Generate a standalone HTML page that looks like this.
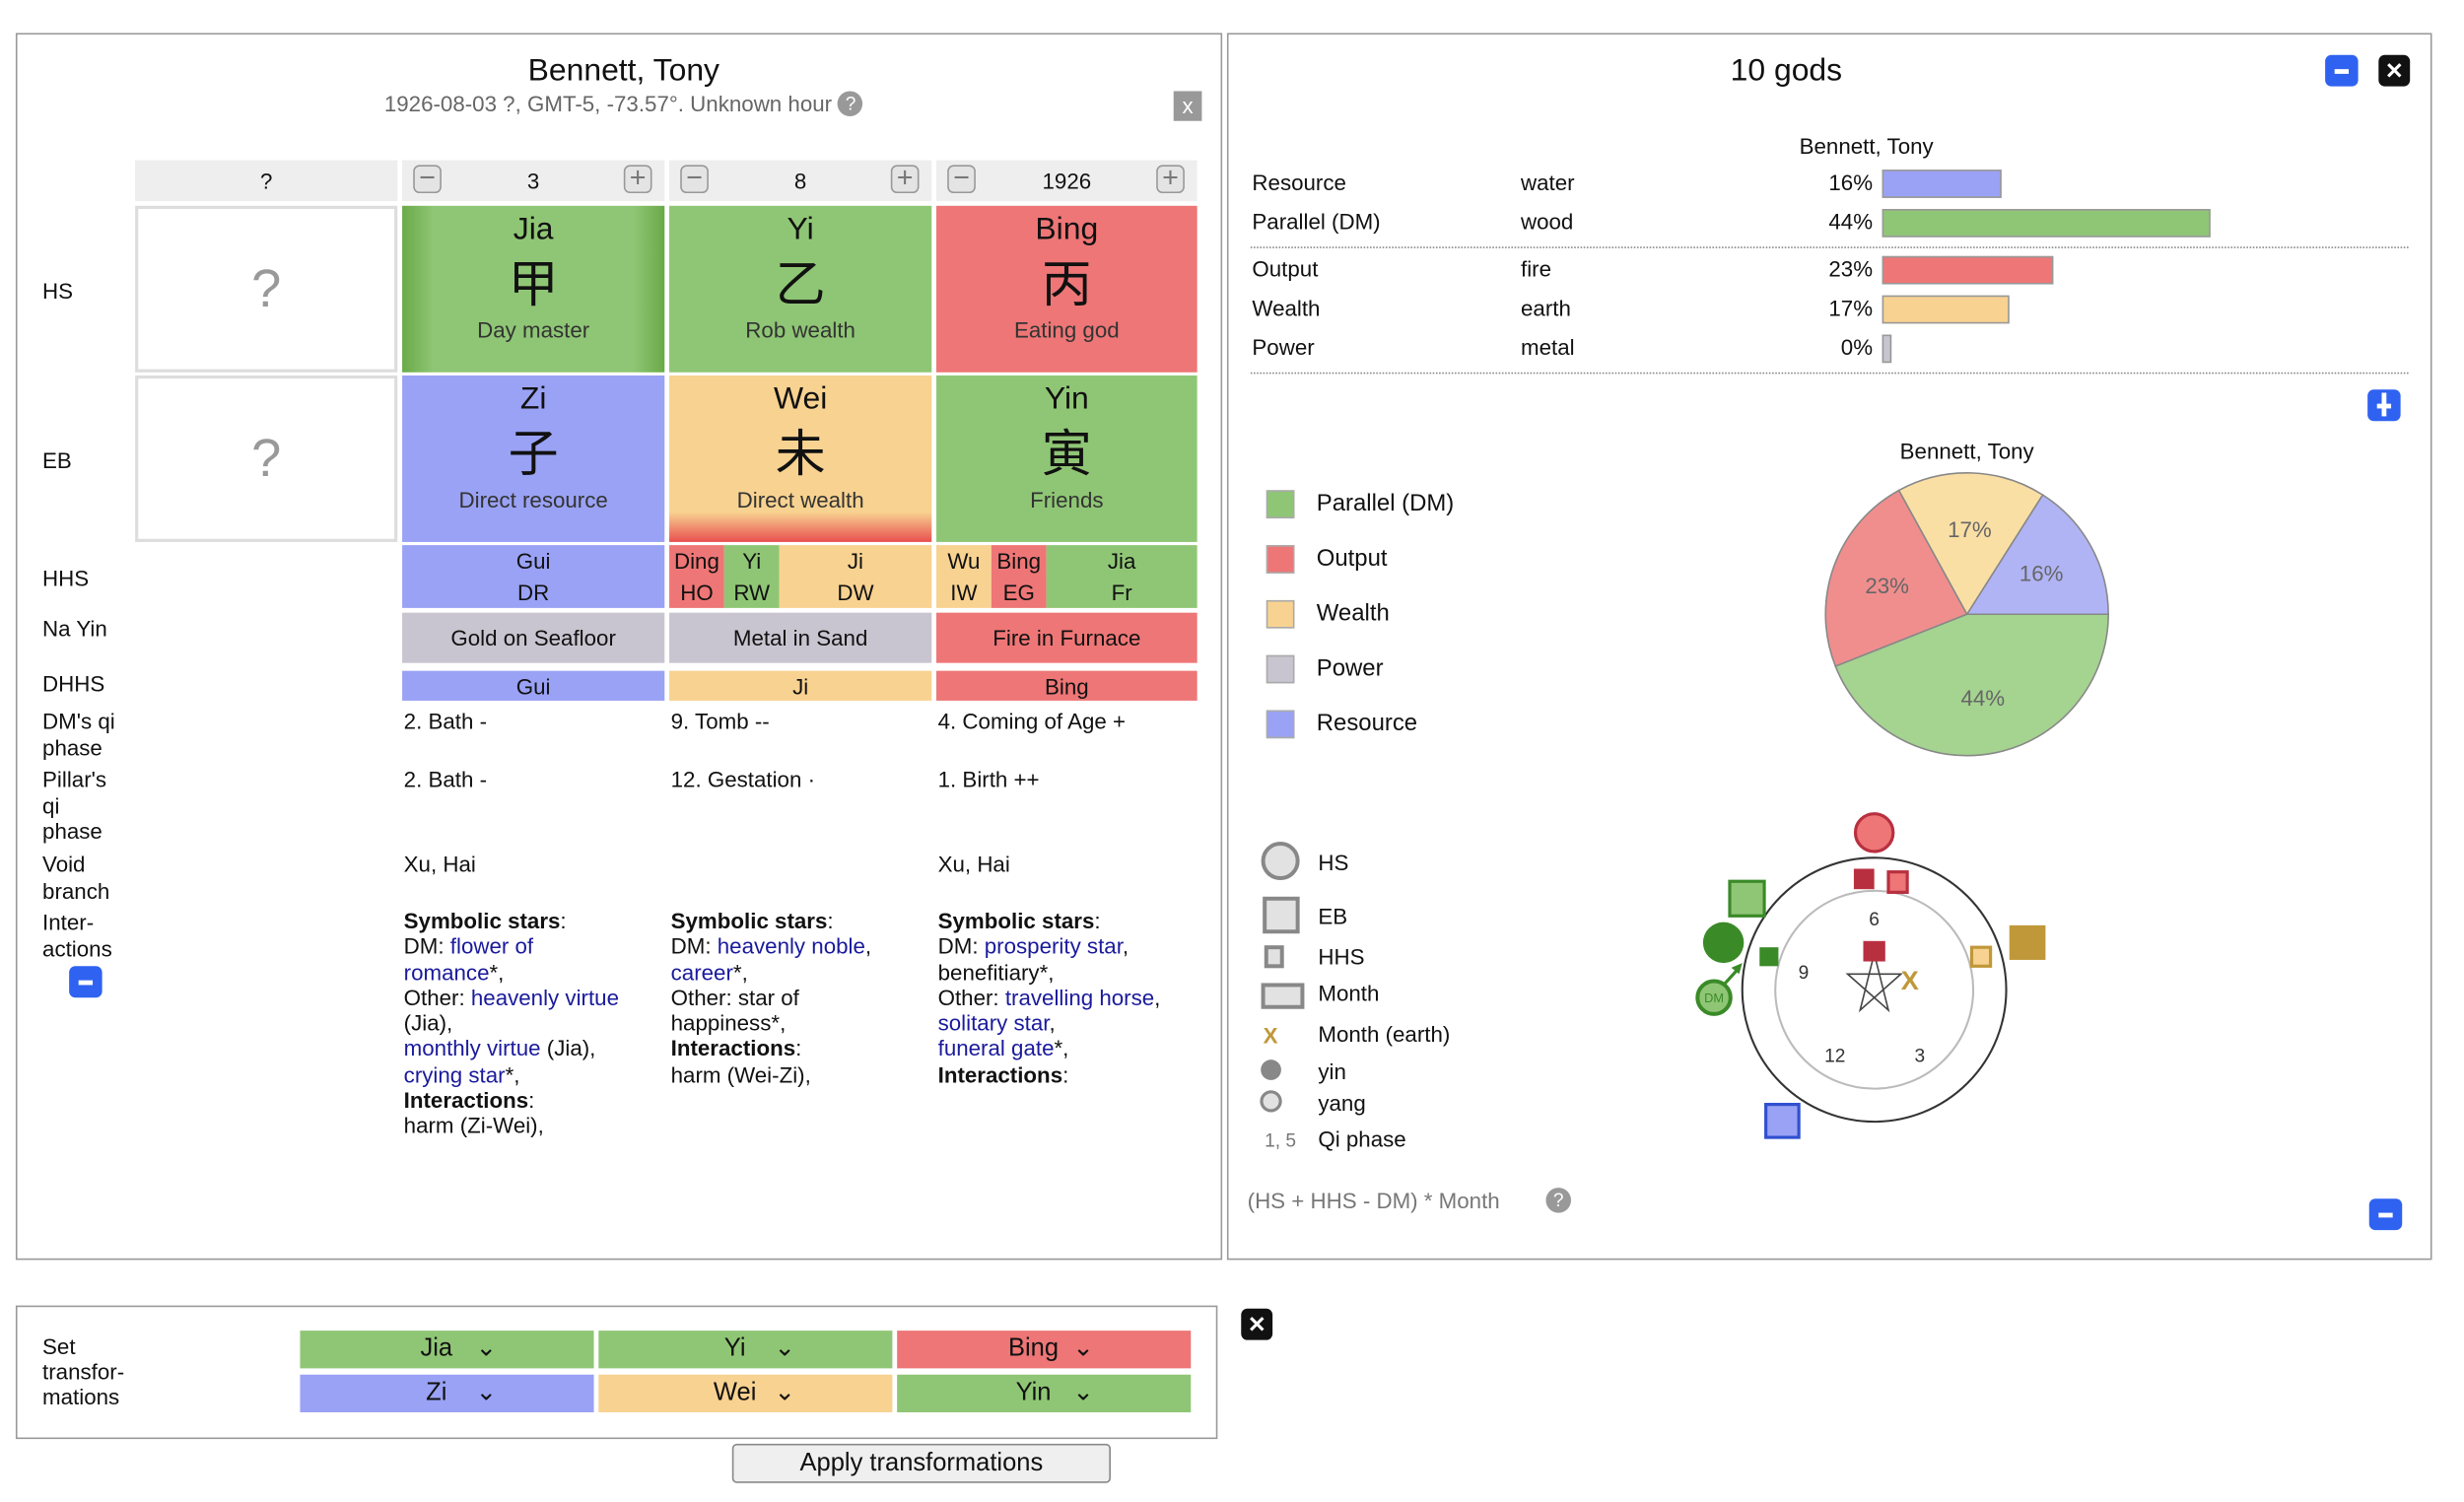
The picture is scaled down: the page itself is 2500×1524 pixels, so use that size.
<!DOCTYPE html>
<html><head><meta charset="utf-8">
<style>
html,body{margin:0;padding:0;background:#fff;overflow:hidden}
body{width:2500px;height:1524px}
#root{position:absolute;left:0;top:0;width:1568px;height:956px;transform:scale(1.594);transform-origin:0 0;font-family:"Liberation Sans","Noto Sans CJK SC",sans-serif;font-size:14px;color:#111}
#root div{white-space:nowrap}
.a{position:absolute}
.panel{position:absolute;border:1px solid #999;box-sizing:border-box;background:#fff}
.c{text-align:center}
.cell{position:absolute;box-sizing:border-box;text-align:center}
.g{background:#8fc675}.r{background:#ee7676}.y{background:#f8d290}.b{background:#9aa2f5}.p{background:#c9c5d0}
.hd{position:absolute;top:102px;height:26px;background:#eee;line-height:26px;text-align:center;font-size:14px}
.pm{position:absolute;top:3px;width:18px;height:18px;border:1px solid #999;border-radius:4px;background:#e4e4e4;box-sizing:border-box;color:#777;line-height:15px;font-size:18px}
.big{font-size:20px;line-height:24px;padding-top:3px}
.cjk{font-family:"Noto Sans CJK SC",sans-serif;font-size:32px;line-height:42px}
.sub{font-size:14px;color:#333;line-height:20px}
.lab{position:absolute;left:27px;line-height:16.5px;font-size:14px}
.lnk{color:#1a1a9c}
.btnb{position:absolute;width:21px;height:20px;border-radius:4px;background:#2f62f0}
.btnb:after{content:"";position:absolute;left:6px;top:9px;width:9px;height:3px;background:#fff}
.dd{position:absolute;height:24px;line-height:24px;font-size:16px;text-align:center}
.dd span{display:inline-block;width:50px;text-align:center}
</style></head><body>
<div id="root">

<div class="panel" style="left:10px;top:21px;width:768px;height:781px"></div>
<div class="a c" style="left:197px;top:34px;width:400px;font-size:20px">Bennett, Tony</div>
<div class="a c" style="left:147px;top:58px;width:500px;font-size:14px;color:#666">1926-08-03 ?, GMT-5, -73.57°. Unknown hour <span style="display:inline-block;width:16px;height:16px;border-radius:8px;background:#999;color:#fff;font-size:12px;line-height:16px;vertical-align:1px">?</span></div>
<div class="a c" style="left:747px;top:58px;width:18px;height:19px;background:#999;color:#fff;line-height:19px;font-size:14px">x</div>

<div class="hd" style="left:86px;width:167px">?</div>
<div class="hd" style="left:256px;width:167px"><div class="pm" style="left:7px">−</div>3<div class="pm" style="right:8px">+</div></div>
<div class="hd" style="left:426px;width:167px"><div class="pm" style="left:7px">−</div>8<div class="pm" style="right:8px">+</div></div>
<div class="hd" style="left:596px;width:166px"><div class="pm" style="left:7px">−</div>1926<div class="pm" style="right:8px">+</div></div>

<div class="lab" style="top:177px">HS</div>
<div class="lab" style="top:285px">EB</div>
<div class="lab" style="top:360px">HHS</div>
<div class="lab" style="top:392px">Na Yin</div>
<div class="lab" style="top:427px">DHHS</div>
<div class="lab" style="top:451px">DM's qi<br>phase</div>
<div class="lab" style="top:488px">Pillar's<br>qi<br>phase</div>
<div class="lab" style="top:542px">Void<br>branch</div>
<div class="lab" style="top:579px">Inter-<br>actions</div>
<div class="btnb" style="left:44px;top:615px"></div>

<div class="cell" style="left:86px;top:131px;width:167px;height:106px;border:2px solid #ddd;font-size:34px;color:#999;line-height:102px">?</div>
<div class="cell" style="left:86px;top:239px;width:167px;height:106px;border:2px solid #ddd;font-size:34px;color:#999;line-height:102px">?</div>

<div class="cell" style="left:256px;top:131px;width:167px;height:106px;background:linear-gradient(90deg,#6aaa48 0%,#8fc675 12%,#8fc675 88%,#6aaa48 100%)"><div class="big">Jia</div><div class="cjk">甲</div><div class="sub">Day master</div></div>
<div class="cell g" style="left:426px;top:131px;width:167px;height:106px"><div class="big">Yi</div><div class="cjk">乙</div><div class="sub">Rob wealth</div></div>
<div class="cell r" style="left:596px;top:131px;width:166px;height:106px"><div class="big">Bing</div><div class="cjk">丙</div><div class="sub">Eating god</div></div>

<div class="cell b" style="left:256px;top:239px;width:167px;height:106px"><div class="big">Zi</div><div class="cjk">子</div><div class="sub">Direct resource</div></div>
<div class="cell" style="left:426px;top:239px;width:167px;height:106px;background:linear-gradient(180deg,#f8d290 0%,#f8d290 82%,#e85050 100%)"><div class="big">Wei</div><div class="cjk">未</div><div class="sub">Direct wealth</div></div>
<div class="cell g" style="left:596px;top:239px;width:166px;height:106px"><div class="big">Yin</div><div class="cjk">寅</div><div class="sub">Friends</div></div>

<div class="cell b" style="left:256px;top:347px;width:167px;height:40px;line-height:20px">Gui<br>DR</div>
<div class="cell r" style="left:426px;top:347px;width:35px;height:40px;line-height:20px">Ding<br>HO</div>
<div class="cell g" style="left:461px;top:347px;width:35px;height:40px;line-height:20px">Yi<br>RW</div>
<div class="cell y" style="left:496px;top:347px;width:97px;height:40px;line-height:20px">Ji<br>DW</div>
<div class="cell y" style="left:596px;top:347px;width:35px;height:40px;line-height:20px">Wu<br>IW</div>
<div class="cell r" style="left:631px;top:347px;width:35px;height:40px;line-height:20px">Bing<br>EG</div>
<div class="cell g" style="left:666px;top:347px;width:96px;height:40px;line-height:20px">Jia<br>Fr</div>

<div class="cell p" style="left:256px;top:390px;width:167px;height:32px;line-height:33px">Gold on Seafloor</div>
<div class="cell p" style="left:426px;top:390px;width:167px;height:32px;line-height:33px">Metal in Sand</div>
<div class="cell r" style="left:596px;top:390px;width:166px;height:32px;line-height:33px">Fire in Furnace</div>

<div class="cell b" style="left:256px;top:427px;width:167px;height:19px;line-height:20px">Gui</div>
<div class="cell y" style="left:426px;top:427px;width:167px;height:19px;line-height:20px">Ji</div>
<div class="cell r" style="left:596px;top:427px;width:166px;height:19px;line-height:20px">Bing</div>

<div class="a" style="left:257px;top:451px;line-height:16.5px">2. Bath -</div>
<div class="a" style="left:427px;top:451px;line-height:16.5px">9. Tomb --</div>
<div class="a" style="left:597px;top:451px;line-height:16.5px">4. Coming of Age +</div>
<div class="a" style="left:257px;top:488px;line-height:16.5px">2. Bath -</div>
<div class="a" style="left:427px;top:488px;line-height:16.5px">12. Gestation ·</div>
<div class="a" style="left:597px;top:488px;line-height:16.5px">1. Birth ++</div>
<div class="a" style="left:257px;top:542px;line-height:16.5px">Xu, Hai</div>
<div class="a" style="left:597px;top:542px;line-height:16.5px">Xu, Hai</div>

<div class="a" style="left:257px;top:578px;width:165px;line-height:16.3px"><b>Symbolic stars</b>:<br>DM: <span class="lnk">flower of<br>romance</span>*,<br>Other: <span class="lnk">heavenly virtue</span><br>(Jia),<br><span class="lnk">monthly virtue</span> (Jia),<br><span class="lnk">crying star</span>*,<br><b>Interactions</b>:<br>harm (Zi-Wei),</div>
<div class="a" style="left:427px;top:578px;width:165px;line-height:16.3px"><b>Symbolic stars</b>:<br>DM: <span class="lnk">heavenly noble</span>,<br><span class="lnk">career</span>*,<br>Other: star of<br>happiness*,<br><b>Interactions</b>:<br>harm (Wei-Zi),</div>
<div class="a" style="left:597px;top:578px;width:165px;line-height:16.3px"><b>Symbolic stars</b>:<br>DM: <span class="lnk">prosperity star</span>,<br>benefitiary*,<br>Other: <span class="lnk">travelling horse</span>,<br><span class="lnk">solitary star</span>,<br><span class="lnk">funeral gate</span>*,<br><b>Interactions</b>:</div>

<div class="panel" style="left:781px;top:21px;width:767px;height:781px"></div>
<div class="a c" style="left:1037px;top:34px;width:200px;font-size:20px">10 gods</div>
<div class="btnb" style="left:1480px;top:35px"></div>
<div class="a c" style="left:1514px;top:35px;width:20px;height:20px;border-radius:4px;background:#111;color:#fff;font-weight:bold;line-height:20px;font-size:14px">✕</div>
<div class="a c" style="left:1088px;top:85px;width:200px">Bennett, Tony</div>
<div id="bars" class="a" style="left:0;top:0"></div>
<div class="a" style="left:796px;top:157px;width:737px;border-top:1px dotted #888"></div>
<div class="a" style="left:796px;top:237px;width:737px;border-top:1px dotted #888"></div>
<div class="btnb" style="left:1507px;top:248px"></div>
<div class="a" style="left:1516px;top:250px;width:3px;height:15px;background:#fff"></div>

<div class="a c" style="left:1152px;top:279px;width:200px">Bennett, Tony</div>
<svg class="a" id="pie" style="left:1150px;top:290px" width="205" height="205"></svg>
<div id="pielegend" class="a" style="left:0;top:0"></div>

<svg class="a" style="left:795px;top:530px" width="50" height="210">
<circle cx="20" cy="18" r="11" fill="#e2e2e2" stroke="#888" stroke-width="2.5"/>
<rect x="10" y="42" width="21" height="21" fill="#e2e2e2" stroke="#888" stroke-width="2.5"/>
<rect x="11" y="73" width="10" height="12" fill="#e2e2e2" stroke="#888" stroke-width="2.5"/>
<rect x="9" y="97" width="25" height="14" fill="#e2e2e2" stroke="#888" stroke-width="2.5"/>
<text x="9" y="134" fill="#c0983a" font-size="14" font-weight="bold" font-family="Liberation Sans">X</text>
<circle cx="14" cy="151" r="6.5" fill="#888"/>
<circle cx="14" cy="171" r="6" fill="#e2e2e2" stroke="#888" stroke-width="2"/>
<text x="10" y="200" fill="#777" font-size="12" font-family="Liberation Sans">1, 5</text>
</svg>
<div class="a" style="left:839px;top:541px;line-height:17px">HS</div>
<div class="a" style="left:839px;top:575px;line-height:17px">EB</div>
<div class="a" style="left:839px;top:601px;line-height:17px">HHS</div>
<div class="a" style="left:839px;top:624px;line-height:17px">Month</div>
<div class="a" style="left:839px;top:650px;line-height:17px">Month (earth)</div>
<div class="a" style="left:839px;top:674px;line-height:17px">yin</div>
<div class="a" style="left:839px;top:694px;line-height:17px">yang</div>
<div class="a" style="left:839px;top:717px;line-height:17px">Qi phase</div>

<svg class="a" style="left:1060px;top:505px" width="260" height="230">
<circle cx="133" cy="125" r="84" fill="none" stroke="#333" stroke-width="1.3"/>
<circle cx="133" cy="125" r="63" fill="none" stroke="#bbb" stroke-width="1.3"/>
<g font-family="Liberation Sans" font-size="12" fill="#333" text-anchor="middle">
<text x="133" y="84">6</text>
<text x="88" y="118">9</text>
<text x="108" y="171">12</text>
<text x="162" y="171">3</text>
</g>
<polygon points="133,102 142,138 116,115 150,115 124,138" fill="none" stroke="#444" stroke-width="1"/>
<circle cx="133" cy="25" r="12" fill="#ee7676" stroke="#b83040" stroke-width="2"/>
<rect x="120" y="48" width="13" height="13" fill="#b83040"/>
<rect x="142" y="50" width="12" height="13" fill="#ee7676" stroke="#b83040" stroke-width="2"/>
<rect x="126" y="94" width="14" height="13" fill="#b83040"/>
<rect x="41" y="56" width="22" height="22" fill="#8fc675" stroke="#3a8a28" stroke-width="2"/>
<circle cx="37" cy="95" r="13" fill="#3a8a28"/>
<rect x="60" y="98" width="12" height="12" fill="#3a8a28"/>
<circle cx="31" cy="130" r="10.5" fill="#8fc675" stroke="#3a8a28" stroke-width="2.5"/>
<text x="31" y="133" font-family="Liberation Sans" font-size="8" fill="#3a8a28" text-anchor="middle">DM</text>
<line x1="38" y1="121" x2="47" y2="111" stroke="#3a8a28" stroke-width="2"/>
<polygon points="49,108 42,111 47,115" fill="#3a8a28"/>
<rect x="219" y="84" width="23" height="22" fill="#c0983a"/>
<rect x="195" y="98" width="12" height="12" fill="#f8d290" stroke="#c0983a" stroke-width="2"/>
<text x="150" y="125" font-family="Liberation Sans" font-size="17" font-weight="bold" fill="#c0983a">X</text>
<rect x="64" y="198" width="21" height="21" fill="#9aa2f5" stroke="#3050d0" stroke-width="2"/>
</svg>

<div class="a" style="left:794px;top:756px;color:#777">(HS + HHS - DM) * Month</div>
<div class="a c" style="left:984px;top:756px;width:16px;height:16px;border-radius:8px;background:#999;color:#fff;font-size:12px;line-height:16px">?</div>
<div class="btnb" style="left:1508px;top:763px"></div>

<div class="panel" style="left:10px;top:831px;width:765px;height:85px"></div>
<div class="lab" style="top:849px;line-height:16px">Set<br>transfor-<br>mations</div>
<div class="dd g" style="left:191px;top:847px;width:187px"><span>Jia</span>⌄</div>
<div class="dd g" style="left:381px;top:847px;width:187px"><span>Yi</span>⌄</div>
<div class="dd r" style="left:571px;top:847px;width:187px"><span>Bing</span>⌄</div>
<div class="dd b" style="left:191px;top:875px;width:187px"><span>Zi</span>⌄</div>
<div class="dd y" style="left:381px;top:875px;width:187px"><span>Wei</span>⌄</div>
<div class="dd g" style="left:571px;top:875px;width:187px"><span>Yin</span>⌄</div>
<div class="a c" style="left:790px;top:833px;width:20px;height:20px;border-radius:4px;background:#111;color:#fff;font-weight:bold;line-height:20px;font-size:14px">✕</div>
<div class="a c" style="left:466px;top:919px;width:239px;height:23px;border:1px solid #888;border-radius:3px;background:#efefef;line-height:23px;font-size:16px">Apply transformations</div>
</div>

<script>
const godNames = ["Resource","Parallel (DM)","Output","Wealth","Power"];
const godElements = ["water","wood","fire","earth","metal"];
const godPercents = [16,44,23,17,0];
const godColors = ["#9aa2f5","#8fc675","#ee7676","#f8d290","#c9c5d0"];
const rowTops = [117,142,172,197,222];
const barX = 1198, pxPerPct = 4.75;
const bars = document.getElementById('bars');
godNames.forEach((n,i)=>{
  const y = rowTops[i];
  const l = document.createElement('div'); l.className='a'; l.style.cssText=`left:797px;top:${y-9}px`; l.textContent=n;
  
  
  bars.appendChild(l);
  const e = document.createElement('div'); e.className='a'; e.style.cssText=`left:968px;top:${y-9}px`; e.textContent=godElements[i];
  
  
  bars.appendChild(e);
  const p = document.createElement('div'); p.className='a'; p.style.cssText=`left:1100px;width:92px;text-align:right;top:${y-9}px`; p.textContent=godPercents[i]+'%';
  
  
  bars.appendChild(p);
  const b = document.createElement('div'); b.className='a';
  const w = Math.max(godPercents[i]*pxPerPct, 6);
  b.style.cssText=`left:${barX}px;top:${y-9}px;width:${w}px;height:18px;box-sizing:border-box;border:1px solid #999;background:${godColors[i]}`;
  
  
  bars.appendChild(b);
});

const pieLabels = ["Resource","Wealth","Output","Parallel (DM)"];
const pieValues = [16,17,23,44];
const pieColors = ["#b0b4f5","#fadfa5","#f08e8e","#a5d390"];
const svgNS='http://www.w3.org/2000/svg';
const pie=document.getElementById('pie');
const cx=102, cy=101, R=90;
const total=pieValues.reduce((a,b)=>a+b,0);
let a0=0;
pieValues.forEach((v,i)=>{
  const a1=a0+v/total*2*Math.PI;
  const x0=cx+R*Math.cos(a0), y0=cy-R*Math.sin(a0);
  const x1=cx+R*Math.cos(a1), y1=cy-R*Math.sin(a1);
  const large=(a1-a0)>Math.PI?1:0;
  const path=document.createElementNS(svgNS,'path');
  path.setAttribute('d',`M${cx},${cy} L${x0},${y0} A${R},${R} 0 ${large} 0 ${x1},${y1} Z`);
  path.setAttribute('fill',pieColors[i]); path.setAttribute('stroke','#888'); path.setAttribute('stroke-width','1');
  
  
  pie.appendChild(path);
  const am=(a0+a1)/2;
  const t=document.createElementNS(svgNS,'text');
  t.setAttribute('x',cx+0.6*R*Math.cos(am)); t.setAttribute('y',cy-0.6*R*Math.sin(am)+5);
  t.setAttribute('text-anchor','middle'); t.setAttribute('font-size','14'); t.setAttribute('fill','#666');
  t.setAttribute('font-family','Liberation Sans');
  t.textContent=v+'%';
  
  
  pie.appendChild(t);
  a0=a1;
});

const legendLabels=["Parallel (DM)","Output","Wealth","Power","Resource"];
const legendColors=["#8fc675","#ee7676","#f8d290","#c9c5d0","#9aa2f5"];
const pl=document.getElementById('pielegend');
legendLabels.forEach((n,i)=>{
  const y=321+35*i;
  const s=document.createElement('div'); s.className='a';
  s.style.cssText=`left:806px;top:${y-9}px;width:18px;height:18px;box-sizing:border-box;border:1px solid #aaa;background:${legendColors[i]}`;
  
  
  pl.appendChild(s);
  const t=document.createElement('div'); t.className='a'; t.style.cssText=`left:838px;top:${y-9}px;font-size:15px`; t.textContent=n;
  
  
  pl.appendChild(t);
});
</script>
</body></html>
